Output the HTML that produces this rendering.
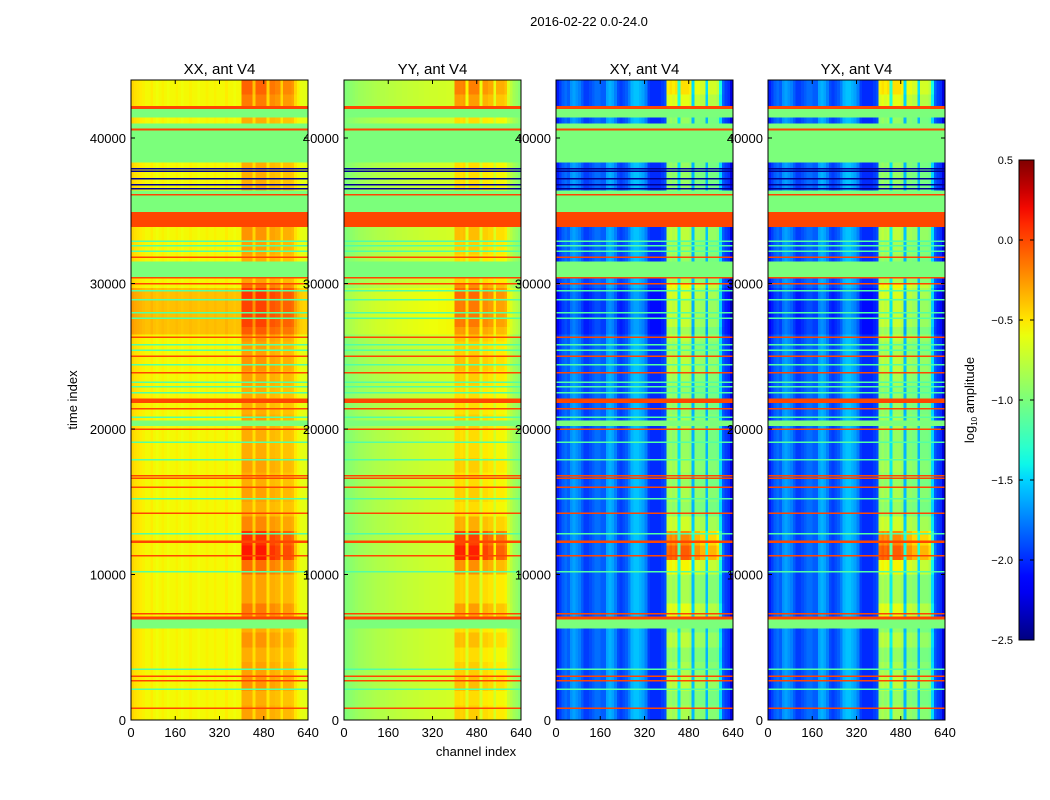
<!DOCTYPE html>
<html><head><meta charset="utf-8"><style>
html,body{margin:0;padding:0;background:#fff;}
svg{display:block;font-family:"Liberation Sans","DejaVu Sans",sans-serif;}
</style></head><body>
<svg id="fig" width="1050" height="800" viewBox="0 0 1050 800" xmlns="http://www.w3.org/2000/svg">
<rect width="1050" height="800" fill="#fff"/>
<text x="589" y="26" font-size="13" text-anchor="middle">2016-02-22 0.0-24.0</text>
<text x="0" y="0" font-size="13" text-anchor="middle" transform="translate(77,400) rotate(-90)">time index</text>
<text x="476" y="756" font-size="13" text-anchor="middle">channel index</text>
<g id="panels"></g>
<g id="cbar"></g>
</svg>
<script>
// ---- data ----
const panelTitles = ["XX, ant V4","YY, ant V4","XY, ant V4","YX, ant V4"];
const xTicks = [0,160,320,480,640];
const yTicks = [0,10000,20000,30000,40000];
const cbarTicks = [0.5,0.0,-0.5,-1.0,-1.5,-2.0,-2.5];
const cbarTickLabels = ["0.5","0.0","\u22120.5","\u22121.0","\u22121.5","\u22122.0","\u22122.5"];
// base log10 amplitude per 10-channel bin (64 bins)
const baseXX = [-0.45,-0.48,-0.5,-0.52,-0.54,-0.56,-0.56,-0.52,-0.56,-0.58,-0.56,-0.54,-0.56,-0.58,-0.56,-0.56,-0.54,-0.56,-0.58,-0.56,-0.56,-0.54,-0.56,-0.56,-0.58,-0.56,-0.56,-0.54,-0.56,-0.56,-0.54,-0.56,-0.56,-0.56,-0.52,-0.56,-0.56,-0.58,-0.56,-0.56,-0.52,-0.52,-0.52,-0.52,-0.56,-0.52,-0.52,-0.52,-0.52,-0.56,-0.54,-0.54,-0.54,-0.54,-0.57,-0.55,-0.55,-0.55,-0.55,-0.57,-0.58,-0.6,-0.62,-0.62];
const baseYY = [-0.98,-0.96,-0.94,-0.92,-0.9,-0.88,-0.87,-0.86,-0.85,-0.84,-0.83,-0.82,-0.81,-0.8,-0.8,-0.79,-0.78,-0.78,-0.77,-0.76,-0.76,-0.75,-0.75,-0.74,-0.74,-0.73,-0.73,-0.72,-0.72,-0.71,-0.71,-0.7,-0.7,-0.7,-0.69,-0.69,-0.69,-0.68,-0.68,-0.68,-0.72,-0.72,-0.74,-0.72,-0.76,-0.72,-0.72,-0.72,-0.72,-0.76,-0.74,-0.74,-0.74,-0.74,-0.77,-0.76,-0.76,-0.76,-0.76,-0.8,-0.82,-0.86,-0.9,-0.95];
const baseXY = [-2.05,-1.95,-1.85,-1.8,-1.85,-1.7,-1.65,-1.7,-1.75,-1.85,-1.95,-1.95,-1.9,-1.85,-1.8,-1.8,-1.85,-1.85,-1.65,-1.6,-1.65,-1.75,-1.9,-1.95,-1.9,-1.85,-1.75,-1.6,-1.55,-1.55,-1.6,-1.65,-1.75,-1.95,-2.0,-2.0,-2.0,-2.0,-1.95,-1.9,-1.3,-1.25,-1.3,-1.25,-1.6,-1.25,-1.25,-1.25,-1.3,-1.7,-1.3,-1.3,-1.3,-1.3,-1.7,-1.3,-1.3,-1.3,-1.3,-1.6,-1.9,-1.95,-2.0,-2.25];
const baseYX = [-2.05,-1.95,-1.85,-1.8,-1.85,-1.7,-1.65,-1.7,-1.75,-1.85,-1.95,-1.95,-1.9,-1.85,-1.8,-1.8,-1.85,-1.85,-1.65,-1.6,-1.65,-1.75,-1.9,-1.95,-1.9,-1.85,-1.75,-1.6,-1.55,-1.55,-1.6,-1.65,-1.75,-1.95,-2.0,-2.0,-2.0,-2.0,-1.95,-1.9,-1.3,-1.25,-1.3,-1.25,-1.6,-1.25,-1.25,-1.25,-1.3,-1.7,-1.3,-1.3,-1.3,-1.3,-1.7,-1.3,-1.3,-1.3,-1.3,-1.6,-1.9,-1.95,-2.0,-2.25];
// RFI column strength per 10-channel bin
const rfiCol = [0,0,0,0,0,0,0,0,0,0,0,0,0,0,0,0,0,0,0,0,0,0,0,0,0,0,0,0,0,0,0,0,0,0,0,0,0,0,0,0,1,1,1,1,0.4,1,1,1,1,0.3,0.9,0.9,0.8,0.8,0.3,0.8,0.8,0.8,0.7,0.3,0.1,0,0,0];
const rfiAmp = [0.4,0.5,0.7,0.7];
const brightShift = [0.18,0.12,-0.1,-0.1];
// RFI intensity per 1000 time samples (index 0..43)
const rfiTime = [0.6,0.5,0.7,0.6,0.5,0.7,0.5,0.9,0.6,0.6,1.0,1.7,1.5,0.8,0.5,0.6,0.5,0.6,0.5,0.5,0.6,0.5,0.5,0.6,0.7,0.6,0.7,0.9,0.9,1.0,0.6,0.5,0.6,0.7,0.5,0.5,0.5,0.5,0.5,0.5,0.5,0.5,0.9,1.1];
// time segments in thousands  n=normal b=bright g=green flag o=orange flag
const segTop = [44.0,42.2,42.0,41.4,41.0,40.6,40.5,38.3,36.4,34.9,33.9,31.5,30.4,29.7,26.5,22.1,21.8,20.6,20.2,7.3,7.1,6.9,6.3];
const segBot = [42.2,42.0,41.4,41.0,40.6,40.5,38.3,36.4,34.9,33.9,31.5,30.4,29.7,26.5,22.1,21.8,20.6,20.2,7.3,7.1,6.9,6.3,0];
const segKind = ["n","o","g","n","g","o","g","n","g","o","n","g","n","b","n","o","n","g","n","n","o","g","n"];
// thin lines (thousands) and kinds: o orange, c cyan-green, k navy
const lineT = [40.6,37.9,37.7,37.2,36.8,36.5,36.1,32.9,32.6,32.2,31.8,30.4,30.0,29.5,28.9,28.0,27.6,26.3,25.8,25.4,25.0,24.4,23.85,23.2,22.9,22.5,21.4,20.8,20.0,19.1,17.9,16.8,16.6,16.0,15.2,14.2,12.8,12.3,12.2,11.3,10.2,7.3,3.5,3.0,2.7,2.1,0.8];
const lineKind = ["o","k","k","k","k","k","o","c","c","c","o","o","o","c","c","c","c","o","c","c","o","c","o","c","c","c","o","c","o","c","c","o","o","o","c","o","c","o","o","o","c","o","c","o","o","c","o"];
const flagVal = {g:-1.0, o:0.01, c:-1.15, k:-2.45};

// ---- scales / colormap ----
const panelX = [131,344,556,768], PW=177, PT=80, PB=720;
const xs = (ch,i)=> panelX[i] + ch/640*PW;
const ys = t => PB - (t*1000)/40000*(PB-138);
function interp(pts,x){for(let i=1;i<pts.length;i++){if(x<=pts[i][0]){const a=pts[i-1],b=pts[i];return a[1]+(b[1]-a[1])*(x-a[0])/(b[0]-a[0]);}}return pts[pts.length-1][1];}
const R=[[0,0],[0.35,0],[0.66,1],[0.89,1],[1,0.5]], G=[[0,0],[0.125,0],[0.375,1],[0.64,1],[0.91,0],[1,0]], B=[[0,0.5],[0.11,1],[0.34,1],[0.65,0],[1,0]];
function jet(v){let x=(v+2.5)/3;x=Math.max(0,Math.min(1,x));const c=[R,G,B].map(p=>Math.round(255*interp(p,x)));return `rgb(${c[0]},${c[1]},${c[2]})`;}
const NS='http://www.w3.org/2000/svg';
function el(tag,attrs,parent){const e=document.createElementNS(NS,tag);for(const k in attrs)e.setAttribute(k,attrs[k]);parent.appendChild(e);return e;}
const bases=[baseXX,baseYY,baseXY,baseYX];
const panels=document.getElementById('panels');

panelTitles.forEach((title,pi)=>{
  const g=el('g',{},panels);
  
  
  const cells=el('g',{'shape-rendering':'crispEdges'},g);
  segTop.forEach((top,si)=>{
    const bot=segBot[si], kind=segKind[si];
    if(kind==='g'||kind==='o'){
      const r=el('rect',{x:xs(0,pi),y:ys(top),width:PW,height:ys(bot)-ys(top)+0.5,fill:jet(flagVal[kind])},cells);
      
      
      return;
    }
    let t=top;
    while(t>bot+1e-9){
      const k=Math.min(43,Math.floor(t-1e-9));
      const tb=Math.max(bot,k);
      for(let b=0;b<64;b++){
        let v=bases[pi][b]+rfiAmp[pi]*rfiCol[b]*rfiTime[k]+(kind==='b'?brightShift[pi]:0);
        const r=el('rect',{x:xs(b*10,pi),y:ys(t),width:PW/64+0.4,height:ys(tb)-ys(t)+0.5,fill:jet(v)},cells);
        
        
      }
      t=tb;
    }
  });
  lineT.forEach((lt,li)=>{
    const r=el('rect',{x:xs(0,pi),y:ys(lt)-0.75,width:PW,height:1.5,fill:jet(flagVal[lineKind[li]])},cells);
    
    
  });
  el('rect',{x:panelX[pi],y:PT,width:PW,height:PB-PT,fill:'none',stroke:'#000','stroke-width':1},g);
  const tt=el('text',{x:panelX[pi]+PW/2,y:74,'font-size':15,'text-anchor':'middle'},g);
  tt.textContent=title;
  
  
  xTicks.forEach(v=>{
    const x=xs(v,pi);
    el('line',{x1:x,x2:x,y1:PB,y2:PB-4,stroke:'#000'},g);
    el('line',{x1:x,x2:x,y1:PT,y2:PT+4,stroke:'#000'},g);
    const tx=el('text',{x:x,y:737,'font-size':13,'text-anchor':'middle'},g);
    tx.textContent=String(v);
    
    
  });
  yTicks.forEach(v=>{
    const y=ys(v/1000);
    el('line',{x1:panelX[pi],x2:panelX[pi]+4,y1:y,y2:y,stroke:'#000'},g);
    el('line',{x1:panelX[pi]+PW,x2:panelX[pi]+PW-4,y1:y,y2:y,stroke:'#000'},g);
    const ty=el('text',{x:panelX[pi]-5,y:y+5,'font-size':13,'text-anchor':'end'},g);
    ty.textContent=String(v);
    
    
  });
});

// colorbar
const cb=document.getElementById('cbar');
const CX=1019,CW=15,CT=160,CB=640;
const cys=v=>CB-(v+2.5)/3*(CB-CT);
const defs=el('defs',{},cb);
const grad=el('linearGradient',{id:'jetg',x1:0,y1:1,x2:0,y2:0},defs);
for(let i=0;i<=30;i++){el('stop',{offset:i/30,'stop-color':jet(-2.5+3*i/30)},grad);}
const cr=el('rect',{x:CX,y:CT,width:CW,height:CB-CT,fill:'url(#jetg)',stroke:'#000','stroke-width':1},cb);


cbarTicks.forEach((v,i)=>{
  const y=cys(v);
  el('line',{x1:CX,x2:CX+4,y1:y,y2:y,stroke:'#000'},cb);
  el('line',{x1:CX+CW,x2:CX+CW-4,y1:y,y2:y,stroke:'#000'},cb);
  const t=el('text',{x:CX-6,y:y+4,'font-size':11,'text-anchor':'end'},cb);
  t.textContent=cbarTickLabels[i];
  
  
});
const cl=el('text',{'font-size':13,'text-anchor':'middle',transform:'translate(974,400) rotate(-90)'},cb);
cl.innerHTML='log<tspan font-size="8" dy="3">10</tspan><tspan dy="-3"> amplitude</tspan>';


</script>
</body></html>
